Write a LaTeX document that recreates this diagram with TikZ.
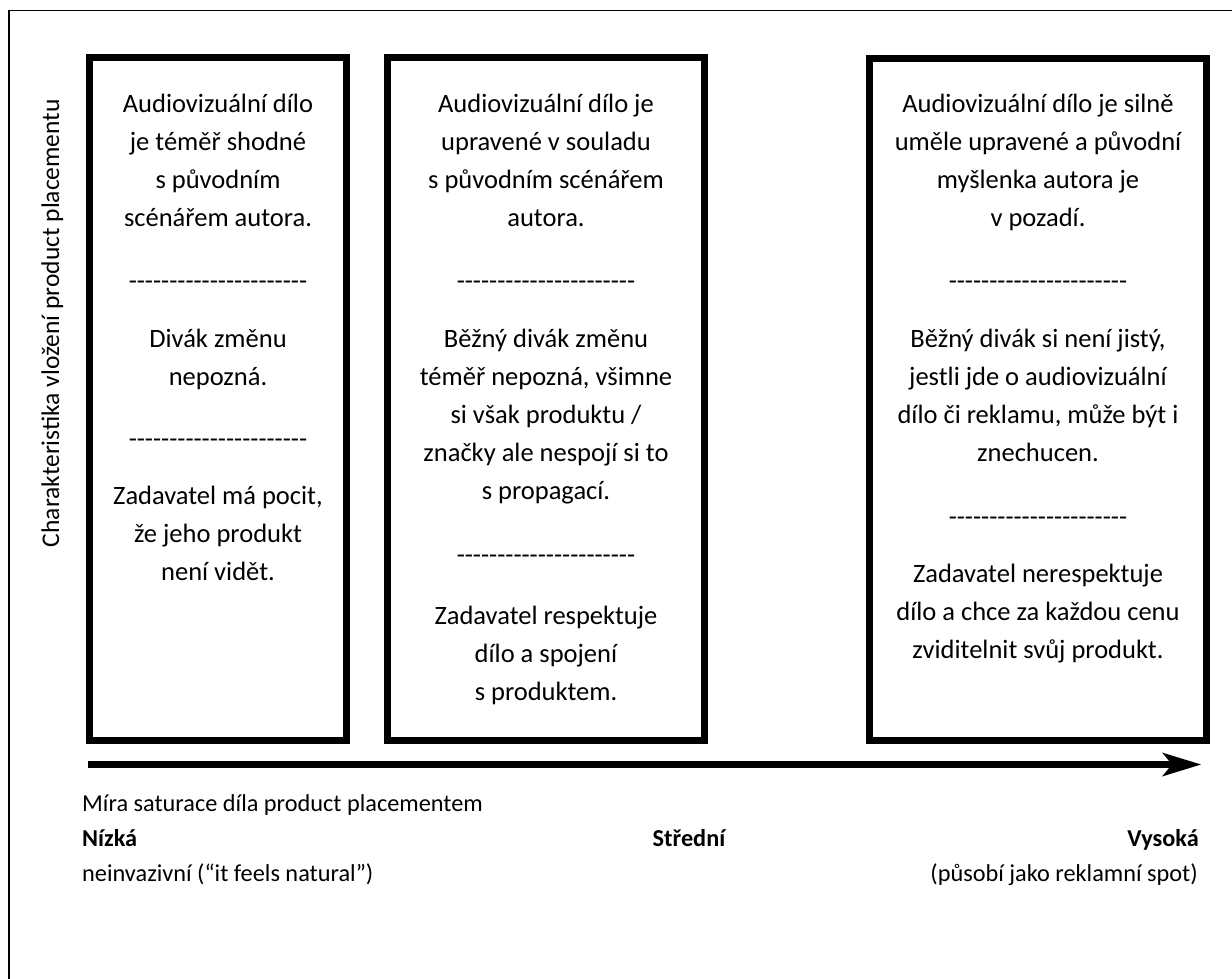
\documentclass[tikz,border=0pt]{standalone}
\usepackage{fontspec}
\setmainfont{Carlito}
\usetikzlibrary{arrows.meta}
% a hyphen that never joins its neighbours into an en or em dash
\newcommand\hy{-\kern0pt}
\newcommand\dashrow{\hy\hy\hy\hy\hy\hy\hy\hy\hy\hy\hy\hy\hy\hy\hy\hy\hy\hy\hy\hy\hy\hy}
\begin{document}
\begin{tikzpicture}[x=1pt,y=-1pt,
  txt/.style={font=\fontsize{24.3}{29}\selectfont, inner sep=0pt, anchor=base},
  boxtxt/.style={font=\fontsize{26.5}{32}\selectfont, inner sep=0pt, anchor=base},
  sidetxt/.style={font=\fontsize{25.5}{31}\selectfont, inner sep=0pt},
  panel/.style={draw, line width=7pt, inner sep=0pt},
  frame/.style={draw, line width=1.6pt},
  axis/.style={line width=7pt, -{Stealth[length=39pt, width=24pt, inset=10pt, line width=0pt]}}]
\useasboundingbox (0,0) rectangle (1232,978);

% outer frame, running past the right and bottom edges
\draw[frame] (9,10.5) rectangle (1245,995);

% the three panels
\node[panel, minimum width=257pt, minimum height=683pt] (box1) at (218,399) {};
\node[panel, minimum width=317pt, minimum height=683pt] (box2) at (546,399) {};
\node[panel, minimum width=337pt, minimum height=682pt] (box3) at (1038,399) {};

% panel 1
\foreach \y/\t in {
  112/{Audiovizuální dílo}, 150/{je téměř shodné}, 188/{s původním}, 226/{scénářem autora.},
  289/{\dashrow},
  347/{Divák změnu}, 385/{nepozná.},
  447/{\dashrow},
  504/{Zadavatel má pocit,}, 542/{že jeho produkt}, 580/{není vidět.}}
  \node[boxtxt] (p1-\y) at (218,\y) {\t};

% panel 2
\foreach \y/\t in {
  112/{Audiovizuální dílo je}, 150/{upravené v souladu}, 188/{s původním scénářem}, 226/{autora.},
  289/{\dashrow},
  347/{Běžný divák změnu}, 385/{téměř nepozná, všimne}, 423/{si však produktu /},
  461/{značky ale nespojí si to}, 499/{s propagací.},
  563/{\dashrow},
  624/{Zadavatel respektuje}, 662/{dílo a spojení}, 700/{s produktem.}}
  \node[boxtxt] (p2-\y) at (546,\y) {\t};

% panel 3
\foreach \y/\t in {
  112/{Audiovizuální dílo je silně}, 150/{uměle upravené a původní}, 188/{myšlenka autora je}, 226/{v pozadí.},
  289/{\dashrow},
  347/{Běžný divák si není jistý,}, 385/{jestli jde o audiovizuální},
  423/{dílo či reklamu, může být i}, 461/{znechucen.},
  525/{\dashrow},
  582/{Zadavatel nerespektuje}, 620/{dílo a chce za každou cenu}, 658/{zviditelnit svůj produkt.}}
  \node[boxtxt] (p3-\y) at (1038,\y) {\t};

% vertical axis caption
\node[sidetxt, rotate=90, anchor=base east] (ylab) at (59,99) {Charakteristika vložení product placementu};

% horizontal axis
\coordinate (ax0) at (88,764.5);
\coordinate (ax1) at (1201,764.5);
\draw[axis] (ax0) -- (ax1);

% axis captions
\node[txt, anchor=base west] (xlab) at (82,811) {Míra saturace díla product placementem};
\node[txt, anchor=base west, font=\fontsize{24.3}{29}\selectfont\bfseries] (low) at (82,846) {Nízká};
\node[txt, font=\fontsize{24.3}{29}\selectfont\bfseries] (mid) at (689,846) {Střední};
\node[txt, anchor=base east, font=\fontsize{24.3}{29}\selectfont\bfseries] (high) at (1199,846) {Vysoká};
\node[txt, anchor=base west] (lownote) at (82,881) {neinvazivní (“it feels natural”)};
\node[txt, anchor=base east] (highnote) at (1198,881) {(působí jako reklamní spot)};
\end{tikzpicture}
\end{document}
